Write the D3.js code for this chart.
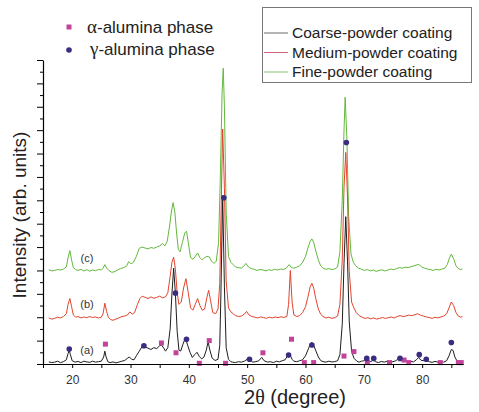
<!DOCTYPE html>
<html lang="en">
<head>
  <meta charset="UTF-8">
  <title>XRD patterns of alumina coatings</title>
  <script src="https://cdnjs.cloudflare.com/ajax/libs/d3/7.8.5/d3.min.js"></script>
  <style>
    body { margin: 0; background: #fff; }
    svg { display: block; font-family: "Liberation Sans", Arial, sans-serif; }
  </style>
</head>
<body>
<svg id="chart" width="479" height="412"></svg>
<script>
  // raw intensities [2theta, counts]; each pattern is shifted by its offset
  const coarse = [[16,9],[16.5,6],[17,8],[17.5,12],[18,6],[18.5,10],[19,18],[19.3,45],[19.5,58],[19.7,40],[20,14],[20.5,8],[21,11],[21.5,6],[22,12],[22.5,9],[23,7],[23.5,12],[24,8],[24.5,10],[25,12],[25.4,30],[25.6,55],[25.8,32],[26.1,10],[26.5,6],[27,9],[27.5,5],[28,8],[28.5,12],[29,15],[29.5,25],[29.8,30],[30.2,20],[30.6,18],[31,35],[31.5,55],[32,75],[32.5,72],[33,68],[33.5,62],[34,70],[34.5,66],[35,78],[35.3,82],[35.7,68],[36,55],[36.4,70],[36.8,150],[37.1,300],[37.4,410],[37.7,300],[38,140],[38.3,60],[38.6,55],[39,85],[39.4,112],[39.8,80],[40.2,50],[40.6,28],[41,40],[41.4,50],[41.8,32],[42.2,22],[42.6,30],[43,60],[43.3,95],[43.6,60],[44,25],[44.5,15],[45,20],[45.3,80],[45.5,300],[45.8,720],[46.1,330],[46.4,70],[46.8,20],[47.2,10],[47.5,8],[48,6],[48.5,10],[49,8],[49.5,12],[50,20],[50.3,26],[50.7,12],[51,8],[51.5,10],[52,14],[52.5,28],[52.9,14],[53.5,8],[54,10],[54.5,6],[55,12],[55.5,9],[56,14],[56.5,18],[57,38],[57.3,42],[57.7,20],[58,12],[58.5,10],[59,14],[59.5,18],[60,35],[60.5,65],[60.8,85],[61.1,92],[61.4,80],[61.8,55],[62.2,30],[62.6,15],[63,10],[63.5,8],[64,12],[64.5,9],[65,10],[65.5,14],[65.9,40],[66.3,170],[66.6,430],[66.9,630],[67.2,440],[67.5,180],[67.9,55],[68.3,25],[68.8,12],[69.2,8],[69.6,12],[70,14],[70.4,22],[70.8,15],[71.2,10],[71.6,18],[72,10],[72.5,6],[73,11],[73.5,8],[74,12],[74.5,7],[75,10],[75.5,14],[76,26],[76.4,22],[76.8,18],[77.2,14],[77.6,10],[78,12],[78.5,9],[79,18],[79.4,28],[79.8,16],[80.3,14],[80.7,18],[81.2,10],[81.7,7],[82.2,11],[82.7,8],[83.2,10],[83.7,8],[84.2,14],[84.6,35],[85,62],[85.3,58],[85.6,30],[86,12],[86.4,8],[86.8,10]];

  const medium = [[16,2],[16.5,-3],[17,0],[17.5,5],[18,2],[18.5,8],[19,20],[19.3,60],[19.6,85],[19.9,50],[20.2,15],[20.6,5],[21,8],[21.5,2],[22,6],[22.5,3],[23,8],[23.5,4],[24,6],[24.5,2],[25,5],[25.3,20],[25.6,65],[25.9,30],[26.2,5],[26.6,-5],[27,-8],[27.5,-3],[28,2],[28.5,8],[29,10],[29.5,15],[29.9,28],[30.3,18],[30.7,25],[31.2,60],[31.6,85],[32,95],[32.5,90],[33,85],[33.5,92],[34,86],[34.5,90],[35,95],[35.5,88],[36,92],[36.4,110],[36.8,180],[37.1,240],[37.4,262],[37.7,210],[38,110],[38.3,60],[38.7,70],[39.1,130],[39.5,170],[39.9,110],[40.3,45],[40.7,35],[41.1,60],[41.5,85],[41.9,55],[42.3,35],[42.7,40],[43.1,90],[43.4,120],[43.7,80],[44.1,25],[44.6,20],[45,40],[45.3,150],[45.6,550],[45.8,810],[46.1,560],[46.4,160],[46.8,45],[47.2,28],[47.6,20],[48,12],[48.5,8],[49,10],[49.5,18],[49.9,30],[50.3,15],[50.8,8],[51.3,5],[51.8,2],[52.3,6],[52.8,4],[53.3,0],[53.8,5],[54.3,2],[54.8,6],[55.3,3],[55.8,7],[56.3,4],[56.8,8],[57.1,60],[57.4,205],[57.7,70],[58,15],[58.5,8],[59,12],[59.5,25],[60,50],[60.4,90],[60.8,135],[61.1,150],[61.4,130],[61.8,80],[62.2,40],[62.6,18],[63,8],[63.5,2],[64,5],[64.5,0],[65,3],[65.5,10],[65.9,60],[66.3,250],[66.6,560],[66.9,710],[67.2,520],[67.5,200],[67.9,70],[68.3,45],[68.7,25],[69.2,12],[69.7,5],[70.2,0],[70.7,3],[71.2,-2],[71.7,2],[72.2,-3],[72.7,0],[73.2,4],[73.7,0],[74.2,3],[74.7,6],[75.2,2],[75.7,8],[76.2,12],[76.7,8],[77.2,10],[77.7,14],[78.2,12],[78.7,15],[79.2,20],[79.7,14],[80.2,10],[80.7,6],[81.2,4],[81.7,0],[82.2,5],[82.7,2],[83.2,6],[83.7,10],[84.2,20],[84.6,45],[85,70],[85.4,55],[85.8,25],[86.2,10],[86.6,5],[86.9,8]];

  const fine = [[16,3],[16.5,-2],[17,0],[17.5,4],[18,2],[18.5,6],[19,15],[19.3,55],[19.6,85],[19.9,45],[20.2,12],[20.6,4],[21,0],[21.5,5],[22,-2],[22.5,3],[23,-3],[23.5,2],[24,-1],[24.5,4],[25,2],[25.3,10],[25.6,25],[25.9,10],[26.3,0],[26.8,-8],[27.3,-5],[27.8,2],[28.3,8],[28.8,12],[29.3,18],[29.7,38],[30.1,28],[30.5,35],[31,60],[31.5,95],[32,100],[32.5,96],[33,92],[33.5,98],[34,95],[34.5,100],[35,105],[35.5,115],[35.9,105],[36.3,125],[36.7,190],[37,250],[37.3,290],[37.6,250],[37.9,160],[38.2,90],[38.5,80],[38.9,120],[39.3,160],[39.6,168],[39.9,120],[40.3,55],[40.7,48],[41.1,60],[41.5,75],[41.9,55],[42.3,45],[42.7,55],[43.1,60],[43.5,58],[43.9,40],[44.3,30],[44.7,40],[45.1,120],[45.4,400],[45.7,760],[45.9,865],[46.1,700],[46.4,250],[46.8,60],[47.2,35],[47.6,25],[48,15],[48.5,12],[49,10],[49.4,18],[49.8,30],[50.2,15],[50.7,8],[51.2,5],[51.7,0],[52.2,4],[52.7,2],[53.2,-2],[53.7,3],[54.2,0],[54.7,5],[55.2,2],[55.7,6],[56.2,4],[56.7,10],[57.2,25],[57.6,12],[58,10],[58.5,14],[59,20],[59.5,35],[60,60],[60.4,95],[60.8,125],[61.1,135],[61.4,120],[61.8,80],[62.2,45],[62.6,20],[63,10],[63.5,5],[64,8],[64.5,4],[65,6],[65.5,15],[65.9,80],[66.3,300],[66.6,600],[66.8,741],[67.1,560],[67.4,230],[67.8,70],[68.2,35],[68.6,20],[69.1,10],[69.6,5],[70.1,0],[70.6,4],[71.1,-2],[71.6,2],[72.1,-4],[72.6,0],[73.1,3],[73.6,-2],[74.1,2],[74.6,6],[75.1,3],[75.6,8],[76.1,12],[76.6,10],[77.1,14],[77.6,12],[78.1,16],[78.6,20],[79.1,24],[79.5,25],[79.9,15],[80.4,10],[80.9,6],[81.4,4],[81.9,0],[82.4,5],[82.9,2],[83.4,6],[83.9,10],[84.3,25],[84.7,55],[85,70],[85.4,50],[85.8,20],[86.2,8],[86.6,4],[86.9,6]];

  const seriesNames = ["Coarse-powder coating", "Medium-powder coating", "Fine-powder coating"];
  const seriesTags = ["(a)", "(b)", "(c)"];
  const offsets = [0, 195, 400];

  // phase markers [2theta, intensity]
  const alphaPeaks = [[25.7,85],[35.3,90],[37.8,48],[41.8,3],[43.5,100],[46.3,3],[52.7,48],[57.6,106],[59.8,6],[61.4,6],[66.6,34],[68.3,53],[70.6,6],[74.4,6],[76.9,17],[77.7,6],[83.1,6],[86.2,6],[86.7,6]];
  const gammaPeaks = [[19.5,64],[32.3,78],[37.7,303],[39.6,106],[46.0,711],[50.4,20],[57.1,38],[61.1,81],[67.0,947],[70.5,24],[71.7,24],[76.2,24],[79.5,40],[80.7,20],[85.0,92]];

  const xTicks = [15, 20, 25, 30, 35, 40, 45, 50, 55, 60, 65, 70, 75, 80, 85];
  const xLabels = [20, 30, 40, 50, 60, 70, 80];

  const svg = d3.select("#chart");
  const x = d3.scaleLinear().domain([15, 87]).range([43, 463]);
  const y = d3.scaleLinear().domain([0, 1300]).range([364, 60]);

  const colors = ["#1e1e1e", "#e2432c", "#62b83c"];
  const legendColors = ["#6a6a6a", "#c9627a", "#8cbd72"];

  // curves: fine first, coarse on top
  const line = d3.line().x(d => x(d[0])).y(d => y(d[1]));
  [fine, medium, coarse].forEach((s, k) => {
    const i = 2 - k;
    svg.append("path")
      .datum(s.map(d => [d[0], d[1] + offsets[i]]))
      .attr("fill", "none")
      .attr("stroke", colors[i])
      .attr("stroke-width", 1)
      .attr("stroke-linejoin", "round")
      .attr("d", line);
  });

  // series tags
  const tagPos = [[87, 60], [87, 255], [87, 453]];
  seriesTags.forEach((t, i) => {
    svg.append("text")
      .attr("x", tagPos[i][0])
      .attr("y", y(tagPos[i][1]))
      .attr("dy", "0.35em")
      .attr("text-anchor", "middle")
      .attr("font-size", 11)
      .attr("fill", "#333")
      .text(t);
  });

  // markers
  svg.selectAll("rect.alpha")
    .data(alphaPeaks)
    .enter()
    .append("rect")
    .attr("class", "alpha")
    .attr("x", d => x(d[0]) - 2.5)
    .attr("y", d => y(d[1]) - 2.5)
    .attr("width", 5)
    .attr("height", 5)
    .attr("fill", "#c2449a");

  svg.selectAll("circle.gamma")
    .data(gammaPeaks)
    .enter()
    .append("circle")
    .attr("class", "gamma")
    .attr("cx", d => x(d[0]))
    .attr("cy", d => y(d[1]))
    .attr("r", 2.8)
    .attr("fill", "#3a2c80");

  // axes
  const xAxis = svg.append("g")
    .attr("transform", "translate(0,364)")
    .call(d3.axisBottom(x).tickValues(xTicks).tickSize(4).tickSizeOuter(0)
      .tickFormat(d => xLabels.includes(d) ? d : ""));
  xAxis.selectAll("text").attr("font-size", 12).attr("fill", "#333").attr("dy", "1.1em")
    .attr("font-family", "Liberation Sans, Arial, sans-serif");
  xAxis.select(".domain").attr("stroke-width", 1.2);

  svg.append("g")
    .attr("transform", "translate(43,0)")
    .call(d3.axisLeft(y).tickValues(d3.range(50, 1300, 100)).tickSize(3).tickSizeOuter(0).tickFormat(""))
    .select(".domain").remove();
  const yAxis = svg.append("g")
    .attr("transform", "translate(43,0)")
    .call(d3.axisLeft(y).tickValues(d3.range(0, 1301, 100)).tickSize(6).tickSizeOuter(0).tickFormat(""));
  yAxis.select(".domain").attr("stroke-width", 1.2);

  // axis titles
  const title = svg.append("text")
    .attr("x", 295)
    .attr("y", 404)
    .attr("text-anchor", "middle")
    .attr("font-size", 20)
    .attr("fill", "#222");
  title.append("tspan").text("2");
  title.append("tspan").attr("font-family", "Liberation Serif, serif").text("θ");
  title.append("tspan").text(" (degree)");

  svg.append("text")
    .attr("transform", "translate(26,215) rotate(-90)")
    .attr("text-anchor", "middle")
    .attr("font-size", 19)
    .attr("fill", "#222")
    .text("Intensity (arb. units)");

  // phase legend
  const phases = [["α", "-alumina phase"], ["γ", "-alumina phase"]];
  svg.append("rect").attr("x", 66.5).attr("y", 24.5).attr("width", 5).attr("height", 5).attr("fill", "#c2449a");
  svg.append("circle").attr("cx", 69).attr("cy", 50).attr("r", 2.8).attr("fill", "#3a2c80");
  phases.forEach((p, i) => {
    const t = svg.append("text")
      .attr("x", i === 0 ? 87 : 90)
      .attr("y", 33 + i * 22)
      .attr("font-size", 17)
      .attr("fill", "#222");
    t.append("tspan").attr("font-family", "Liberation Serif, serif").attr("font-size", 19).text(p[0]);
    t.append("tspan").text(p[1]);
  });

  // series legend
  svg.append("rect")
    .attr("x", 262.5).attr("y", 7.5).attr("width", 209).attr("height", 75)
    .attr("fill", "#fff").attr("stroke", "#777").attr("stroke-width", 1);
  seriesNames.forEach((n, i) => {
    const ly = 33 + i * 19.5;
    svg.append("line")
      .attr("x1", 264).attr("x2", 288).attr("y1", ly).attr("y2", ly)
      .attr("stroke", legendColors[i]).attr("stroke-width", 1);
    svg.append("text")
      .attr("x", 292).attr("y", ly).attr("dy", "0.35em")
      .attr("font-size", 15.5).attr("fill", "#222")
      .text(n);
  });
</script>
</body>
</html>
